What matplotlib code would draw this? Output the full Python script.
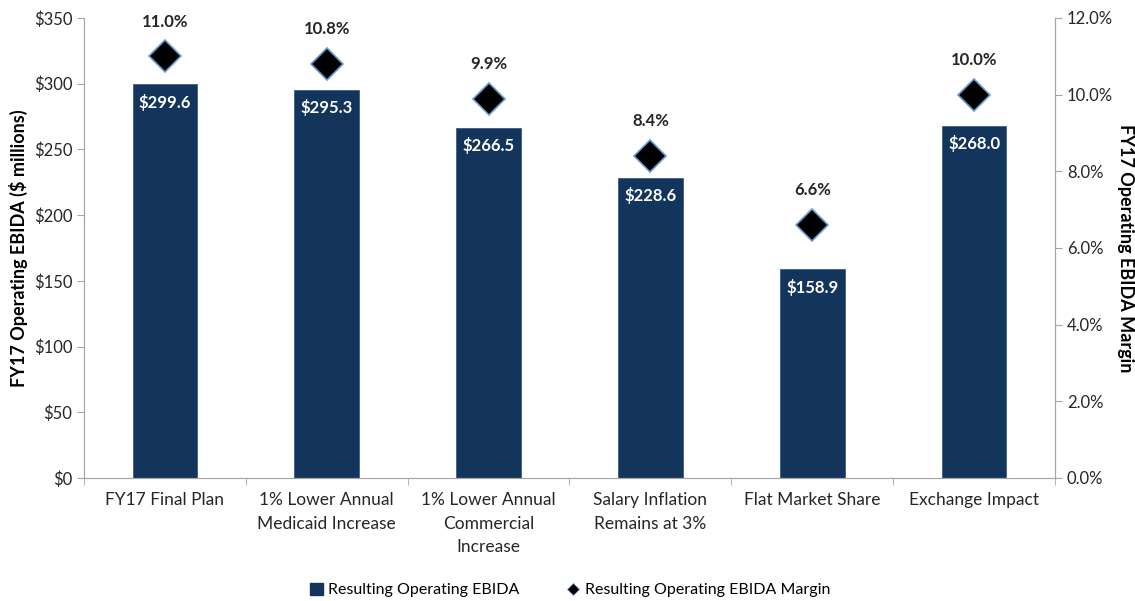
import matplotlib
matplotlib.use("Agg")
import matplotlib.pyplot as plt
from matplotlib.lines import Line2D
from matplotlib.patches import Patch
import numpy as np

categories = ["FY17 Final Plan", "1% Lower Annual\nMedicaid Increase", "1% Lower Annual\nCommercial\nIncrease",
              "Salary Inflation\nRemains at 3%", "Flat Market Share", "Exchange Impact"]
ebida = [299.6, 295.3, 266.5, 228.6, 158.9, 268.0]
margin = [11.0, 10.8, 9.9, 8.4, 6.6, 10.0]
left_ticks = [0, 50, 100, 150, 200, 250, 300, 350]
right_ticks = [0, 2, 4, 6, 8, 10, 12]

plt.rcParams['font.family'] = ['Lato', 'DejaVu Sans']
bar_color = "#13355C"
gray = "#A6A6A6"
text_color = "#262626"

fig = plt.figure(figsize=(11.35, 6.01), dpi=100)
ax = fig.add_axes([84/1135, 1-478/601, (1055-84)/1135, (478-18)/601])
x = np.arange(len(categories))
ax.bar(x, ebida, width=0.4, color=bar_color, edgecolor="#3A5F8A", linewidth=0.6, zorder=2)
ax.set_xlim(-0.5, len(categories)-0.5)
ax.set_ylim(0, 350)
ax.set_yticks(left_ticks)
ax.set_yticklabels([f"${v}" for v in left_ticks], fontsize=12, color=text_color)
ax.set_xticks(x)
ax.set_xticklabels(categories, fontsize=12.5, color=text_color, linespacing=1.6)
ax.tick_params(axis='x', length=0, pad=10)
ax.set_xticks(np.arange(len(categories)+1)-0.5, minor=True)
ax.tick_params(axis='x', which='minor', length=5, color=gray)
ax.tick_params(axis='y', length=5, color=gray)
ax.spines["top"].set_visible(False)
for s in ["left", "bottom", "right"]:
    ax.spines[s].set_color(gray)
ax.set_ylabel("FY17 Operating EBIDA ($ millions)", fontsize=13, fontweight="bold", color="black",
              va="center")
ax.yaxis.set_label_coords((18-84)/971, 0.5)

for xi, v in zip(x, ebida):
    ax.annotate(f"${v:.1f}", (xi, v), xytext=(0, -13), textcoords="offset points",
                ha="center", va="center", color="white", fontsize=12, fontweight="bold", zorder=5)

ax2 = ax.twinx()
ax2.set_ylim(0, 12)
ax2.set_yticks(right_ticks)
ax2.set_yticklabels([f"{v:.1f}%" for v in right_ticks], fontsize=12, color=text_color)
ax2.tick_params(axis='y', length=5, color=gray)
ax2.spines["top"].set_visible(False)
for s in ["left", "bottom", "right"]:
    ax2.spines[s].set_color(gray)
ax2.plot(x, margin, linestyle="none", marker="D", markersize=16, markerfacecolor="black",
         markeredgecolor="#6A9BD1", markeredgewidth=1.2, zorder=4)
for xi, m in zip(x, margin):
    ax2.annotate(f"{m:.1f}%", (xi, m), xytext=(0, 25), textcoords="offset points",
                 ha="center", va="center", fontsize=12, fontweight="bold", color=text_color)
ax2.set_ylabel("FY17 Operating EBIDA Margin", fontsize=13, fontweight="bold", color="black",
               rotation=270, va="center")
ax2.yaxis.set_label_coords((1125-84)/971, 0.5)

handles = [Patch(facecolor=bar_color, edgecolor=bar_color),
           Line2D([], [], linestyle="none", marker="D", markersize=6, markerfacecolor="black",
                  markeredgecolor="#6A9BD1", markeredgewidth=0.5)]
fig.legend(handles, ["Resulting Operating EBIDA", "Resulting Operating EBIDA Margin"],
           loc="center", bbox_to_anchor=(570/1135, 1-590/601), ncol=2, frameon=False,
           fontsize=11.5, handlelength=0.8, handleheight=0.8, handletextpad=0.3, columnspacing=3)

fig.savefig("out.png", dpi=100)
